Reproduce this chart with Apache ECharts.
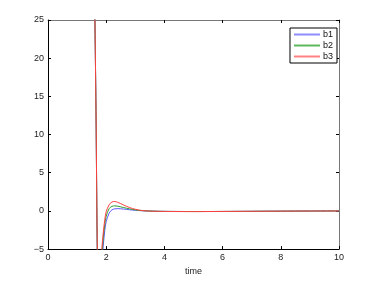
<!DOCTYPE html>
<html><head><meta charset="utf-8">
<script src="https://cdn.jsdelivr.net/npm/echarts@6/dist/echarts.min.js"></script>
<style>html,body{margin:0;padding:0;background:#fff}#c{width:374px;height:281px}</style>
</head><body><div id="c"></div>
<script>
var timeVals = [1.5, 1.55, 1.6, 1.65, 1.7, 1.75, 1.8, 1.85, 1.9, 1.95, 2.0, 2.1, 2.2, 2.3, 2.4, 2.5, 2.7, 2.9, 3.1, 3.3, 3.6, 4, 5, 6, 7, 8, 9, 10];
var b1 = [70, 45, 29, 13, -7, -10.5, -10, -7, -4.5, -2.6, -1.4, -0.3, 0.15, 0.27, 0.3, 0.28, 0.2, 0.11, 0.05, 0.01, -0.03, -0.06, -0.08, -0.07, -0.05, -0.03, -0.015, 0];
var b2 = [70, 45, 29, 13, -6.5, -10, -9, -6, -3.5, -1.8, -0.7, 0.3, 0.6, 0.66, 0.62, 0.53, 0.35, 0.2, 0.08, 0.02, -0.03, -0.06, -0.08, -0.07, -0.05, -0.03, -0.015, 0];
var b3 = [70, 45, 29, 13, -6, -9.5, -8.5, -5, -2.8, -1.2, -0.1, 0.8, 1.18, 1.23, 1.12, 0.95, 0.6, 0.32, 0.13, 0.03, -0.04, -0.07, -0.09, -0.07, -0.05, -0.03, -0.015, 0];
var seriesNames = ['b1', 'b2', 'b3'];
var xTicks = {min: 0, max: 10, interval: 2};
var yTicks = {min: -5, max: 25, interval: 5};

function pairs(ys){ return timeVals.map(function(t,i){return [t, ys[i]];}); }
var colors = ['#5a5aff', '#2e9a2e', '#ff4040'];
var legendColors = ['#8c8cff', '#5cb85c', '#ff8080'];
var font = 'Liberation Sans, Arial, sans-serif';
var chart = echarts.init(document.getElementById('c'));
var axisCommon = {
  type: 'value', splitLine: {show: false},
  axisTick: {inside: true, length: 3, lineStyle: {color: '#000'}},
  axisLabel: {fontSize: 9, color: '#222', fontFamily: font, margin: 4,
    formatter: function(v){ return String(v).replace('-', '\u2212'); }}
};
chart.setOption({
  animation: false,
  grid: {left: 48, right: 35, top: 20, bottom: 31},
  legend: {
    data: seriesNames.map(function(n, i){
      return {name: n, icon: 'rect', itemStyle: {color: legendColors[i], borderWidth: 0}};
    }),
    orient: 'vertical', right: 37, top: 28,
    itemWidth: 26, itemHeight: 2, itemGap: 2,
    padding: [2, 4, 2, 4], borderColor: '#000', borderWidth: 1, backgroundColor: '#fff',
    textStyle: {fontSize: 9, color: '#111', fontFamily: font, padding: [0,0,0,-2], lineHeight: 9}
  },
  xAxis: [
    Object.assign({}, axisCommon, xTicks, {position: 'bottom', name: 'time', nameLocation: 'middle', nameGap: 17,
      nameTextStyle: {fontSize: 9, color: '#222', fontFamily: font},
      axisLine: {onZero: false, lineStyle: {color: '#000', width: 1}}}),
    Object.assign({}, axisCommon, xTicks, {position: 'top', axisLabel: {show: false},
      axisLine: {onZero: false, lineStyle: {color: '#777', width: 1}}})
  ],
  yAxis: [
    Object.assign({}, axisCommon, yTicks, {position: 'left', axisLine: {show: true, onZero: false, lineStyle: {color: '#000', width: 1}}}),
    Object.assign({}, axisCommon, yTicks, {position: 'right', axisLabel: {show: false},
      axisLine: {show: true, onZero: false, lineStyle: {color: '#777', width: 1}}})
  ],
  series: [b1, b2, b3].map(function(d, i){
    return {name: seriesNames[i], type: 'line', data: pairs(d), symbol: 'none', smooth: 0.3, clip: true,
      lineStyle: {color: colors[i], width: 1}, itemStyle: {color: colors[i]}};
  })
});
</script></body></html>
